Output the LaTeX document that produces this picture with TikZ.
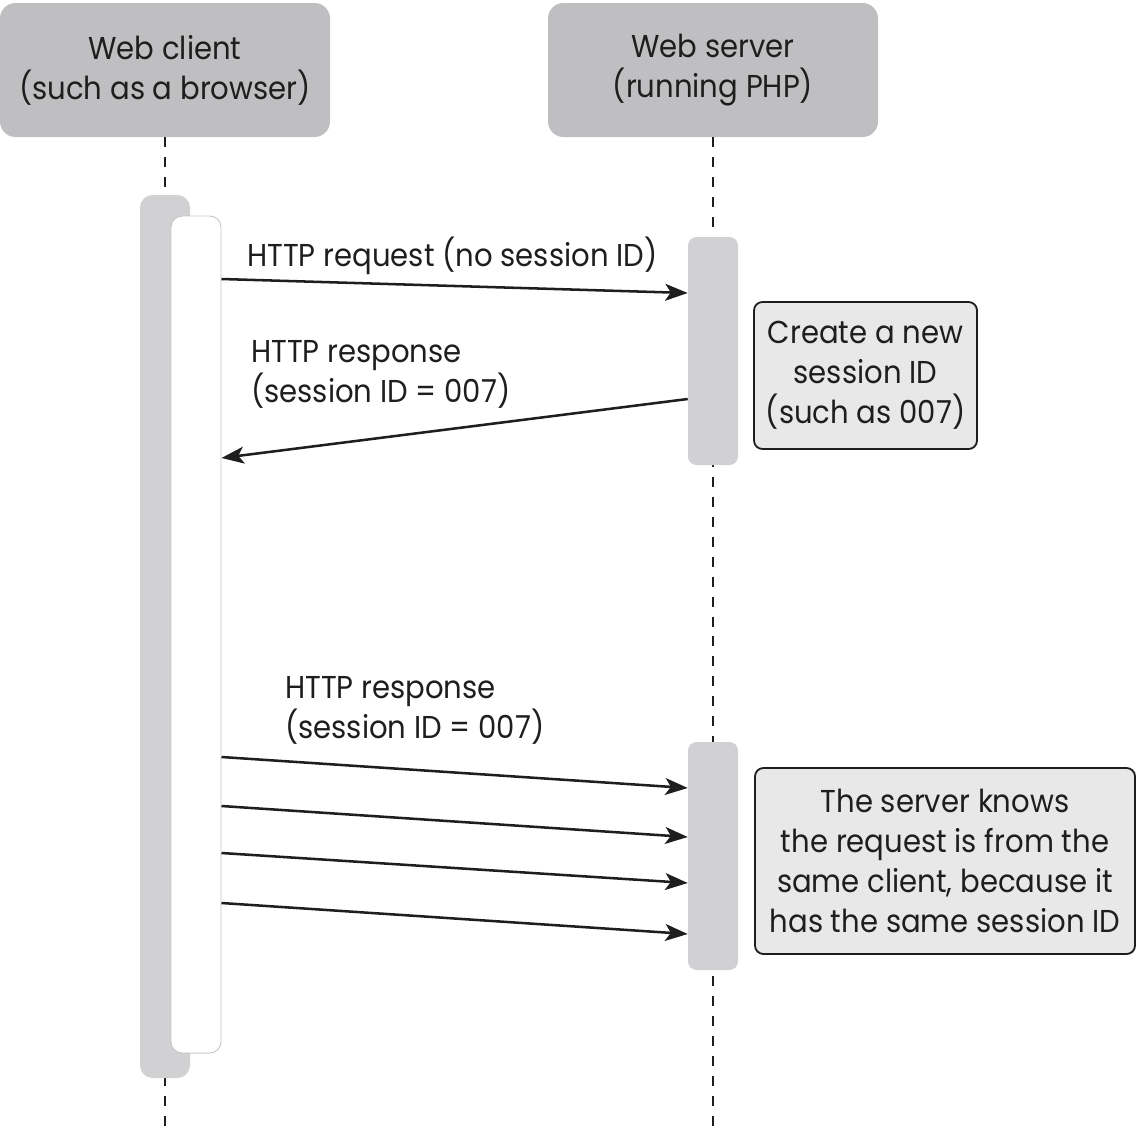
\documentclass[tikz,border=0pt]{standalone}
\usepackage{fontspec}
\setmainfont{Poppins}[FakeStretch=0.92]
\usetikzlibrary{arrows.meta}
\definecolor{hdr}{RGB}{191,191,193}
\definecolor{barc}{RGB}{209,209,211}
\definecolor{notefill}{RGB}{232,232,232}
\definecolor{ink}{RGB}{30,30,30}
\definecolor{innerline}{RGB}{200,200,202}
\newlength\pxu
\setlength\pxu{0.025cm}
\begin{document}
\begin{tikzpicture}[x=0.025cm,y=-0.025cm,
  every node/.style={text=ink, font=\fontsize{22.5}{28.45}\selectfont},
  header/.style={fill=hdr, rounded corners=11pt, minimum width={330*\pxu}, minimum height={134*\pxu}, align=center, inner sep=0pt},
  lifeline/.style={draw=ink, line width=1.4pt, dash pattern=on 7.1pt off 7.1pt},
  actbar/.style={fill=barc, rounded corners=6pt, minimum width={50*\pxu}, inner sep=0pt},
  innerbar/.style={fill=white, draw=innerline, line width=0.7pt, rounded corners=8pt, minimum width={50*\pxu}, inner sep=0pt},
  notebox/.style={fill=notefill, draw=ink, line width=1.3pt, rounded corners=6pt, align=center, inner sep=0pt},
  msg/.style={draw=ink, line width=1.8pt, -{Stealth[length=16pt,width=12pt,inset=4pt]}},
  lbl/.style={inner sep=0pt, align=left}
]
\useasboundingbox (0,0) rectangle (1137,1131);

% headers
\node[header] (client) at (165,70) {Web client\\(such as a browser)};
\node[header] (server) at (713,70) {Web server\\(running PHP)};

% lifelines
\coordinate (cbot) at (165,1131);
\coordinate (sbot) at (713,1131);
\draw[lifeline] (client.south) -- (cbot);
\draw[lifeline] (server.south) -- (sbot);

% activation bars
\node[actbar, minimum height={883*\pxu}, rounded corners=9pt] (cact) at (165,636.5) {};
\node[innerbar, minimum height={837*\pxu}] (cin) at (196,634.5) {};
\node[actbar, minimum height={228*\pxu}] (sa1) at (713,351) {};
\node[actbar, minimum height={228*\pxu}] (sa2) at (713,856) {};

% notes
\node[notebox, minimum width={223*\pxu}, minimum height={147*\pxu}] (n1) at (865.5,375.5) {Create a new\\session ID\\(such as 007)};
\node[notebox, minimum width={380*\pxu}, minimum height={186*\pxu}] (n2) at (945,861) {The server knows\\the request is from the\\same client, because it\\has the same session ID};

% messages
\draw[msg] (cin.east |- 0,279) -- (sa1.west |- 0,293);
\draw[msg] (sa1.west |- 0,399) -- (cin.east |- 0,458);
\draw[msg] (cin.east |- 0,757) -- (sa2.west |- 0,788);
\draw[msg] (cin.east |- 0,806) -- (sa2.west |- 0,837);
\draw[msg] (cin.east |- 0,853) -- (sa2.west |- 0,883);
\draw[msg] (cin.east |- 0,903) -- (sa2.west |- 0,934);

% labels
\node[lbl, anchor=base west] (l1) at (247,266) {HTTP request (no session ID)};
\node[lbl, anchor=west] (l2) at (251,374) {HTTP response\\(session ID = 007)};
\node[lbl, anchor=west] (l3) at (285,710) {HTTP response\\(session ID = 007)};
\end{tikzpicture}
\end{document}
